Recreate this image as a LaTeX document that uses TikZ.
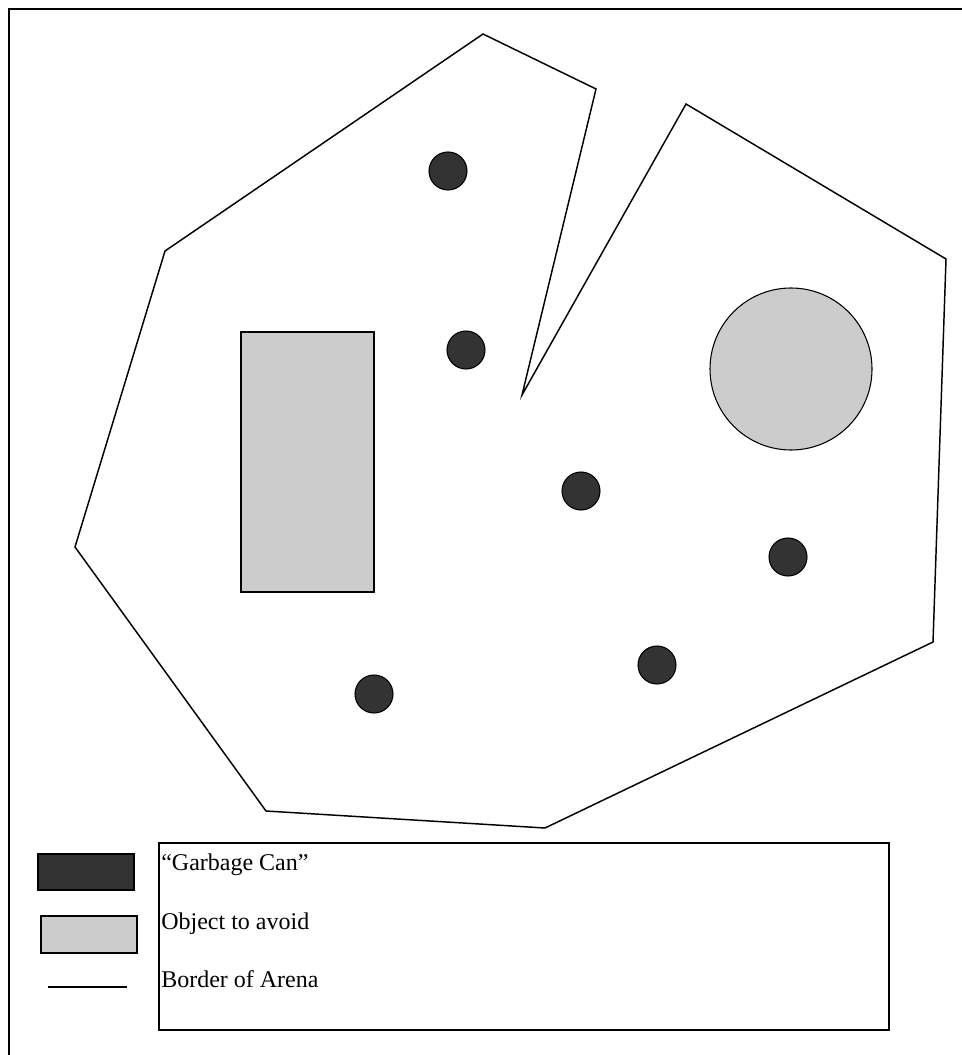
\documentclass[tikz,border=0pt]{standalone}
\usepackage{fontspec}
\setmainfont{Liberation Serif}
\begin{document}
\begin{tikzpicture}[x=0.75pt,y=-0.75pt,
  border/.style={line width=1.1pt,line join=miter},
  can/.style={circle,draw=black,fill=canfill,line width=0.8pt,minimum size=38*0.75pt,inner sep=0pt},
  avoid/.style={draw=black,fill=avoidfill,line width=0.8pt},
  legtext/.style={anchor=base west,inner sep=0pt,font=\fontsize{18}{21}\selectfont}]
\definecolor{canfill}{HTML}{333333}
\definecolor{avoidfill}{HTML}{CCCCCC}
\useasboundingbox (0,0) rectangle (961,1055);
% outer frame
\draw[line width=1.6pt] (9,1056) -- (9,9) -- (962,9);
% arena border
\draw[border] (483,34) -- (596,89) -- (522,395) -- (686,104) -- (946,259) -- (933,642)
  -- (545,828) -- (266,811) -- (75,547) -- (165,251) -- cycle;
% objects to avoid
\draw[avoid] (241,332) rectangle (374,592);
\node[avoid,circle,minimum size=162*0.75pt,inner sep=0pt] (bigc) at (791,369) {};
% garbage cans
\node[can] (g1) at (448,171) {};
\node[can] (g2) at (466,350) {};
\node[can] (g3) at (581,491) {};
\node[can] (g4) at (788,557) {};
\node[can] (g5) at (657,665) {};
\node[can] (g6) at (374,694) {};
% legend
\draw[line width=0.8pt] (159,843) rectangle (889,1030);
\draw[draw=black,fill=canfill,line width=1pt] (38,854) rectangle (134,890);
\draw[avoid] (41,916) rectangle (137,953);
\draw[line width=1.1pt] (48,987) -- (127,987);
\node[legtext] (t1) at (161,870) {“Garbage Can”};
\node[legtext] (t2) at (161,929) {Object to avoid};
\node[legtext] (t3) at (161,987) {Border of Arena};
\end{tikzpicture}
\end{document}
